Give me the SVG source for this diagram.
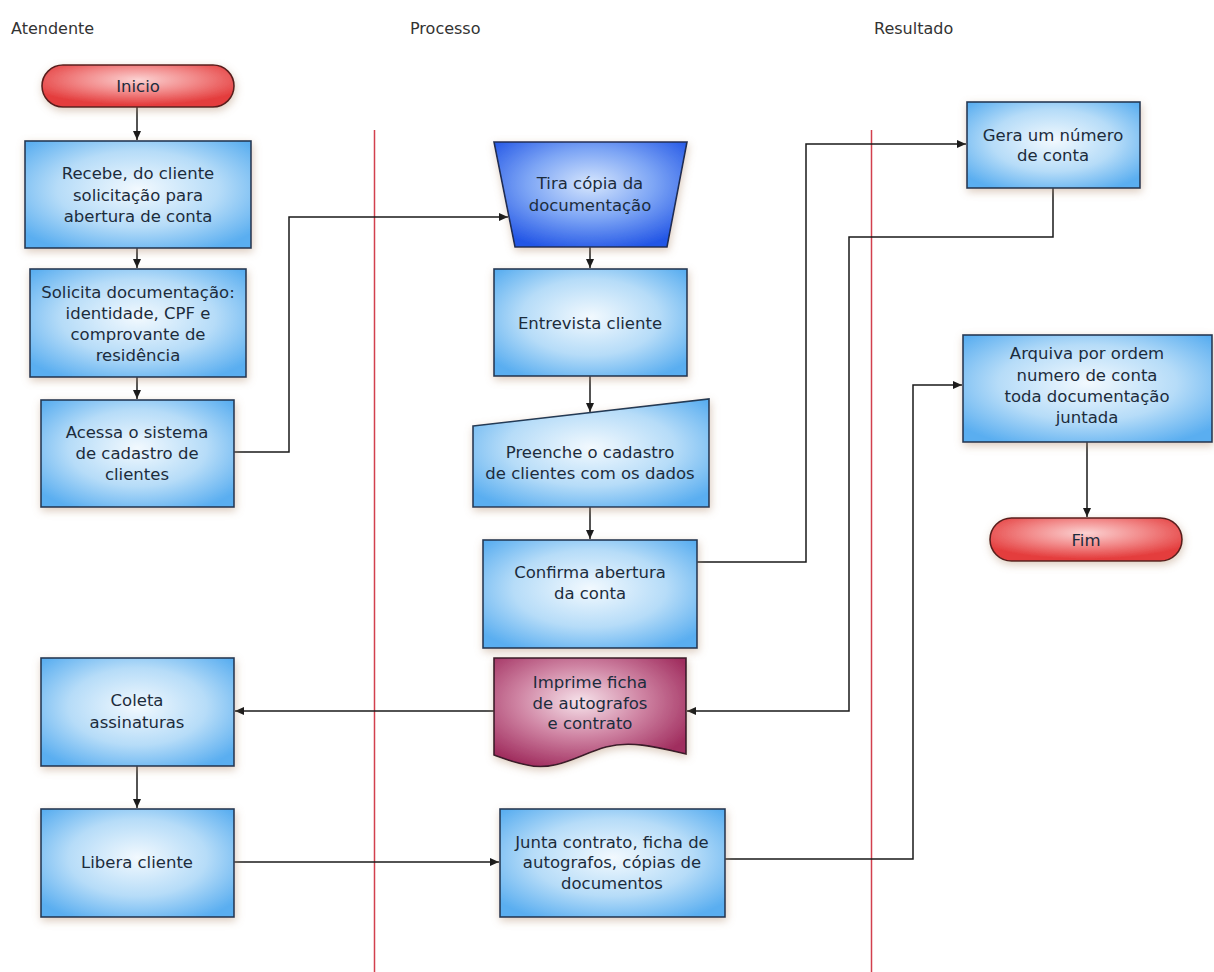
<svg xmlns="http://www.w3.org/2000/svg" width="1214" height="972" viewBox="0 0 1214 972">
  <defs>
    <radialGradient id="gBox" cx="50%" cy="45%" r="65%">
      <stop offset="0" stop-color="#f2f9fe"/>
      <stop offset="0.55" stop-color="#b6dcf8"/>
      <stop offset="1" stop-color="#5aaef0"/>
    </radialGradient>
    <radialGradient id="gTrap" cx="50%" cy="40%" r="65%">
      <stop offset="0" stop-color="#d6e6fd"/>
      <stop offset="0.5" stop-color="#7ea6f5"/>
      <stop offset="1" stop-color="#2356e6"/>
    </radialGradient>
    <radialGradient id="gDoc" cx="45%" cy="40%" r="65%">
      <stop offset="0" stop-color="#f6e2ea"/>
      <stop offset="0.5" stop-color="#cf84a3"/>
      <stop offset="1" stop-color="#a02d5e"/>
    </radialGradient>
    <radialGradient id="gPill" cx="50%" cy="35%" r="60%">
      <stop offset="0" stop-color="#fbd2d2"/>
      <stop offset="0.5" stop-color="#f28a8a"/>
      <stop offset="1" stop-color="#e43d3d"/>
    </radialGradient>
    <filter id="shadow" x="-20%" y="-20%" width="140%" height="150%">
      <feGaussianBlur in="SourceAlpha" stdDeviation="4"/>
      <feOffset dx="1" dy="3" result="b"/>
      <feFlood flood-color="#b08a6a" flood-opacity="0.45"/>
      <feComposite in2="b" operator="in"/>
      <feMerge>
        <feMergeNode/>
        <feMergeNode in="SourceGraphic"/>
      </feMerge>
    </filter>
    <marker id="arrow" markerWidth="10" markerHeight="10" refX="9" refY="4" orient="auto" markerUnits="userSpaceOnUse">
      <path d="M0,0 L9,4 L0,8 Z" fill="#1a1a1a"/>
    </marker>
    <style>
      .lane { font-family: "DejaVu Sans", sans-serif; font-size: 16px; fill: #333; }
      .txt { font-family: "DejaVu Sans", sans-serif; font-size: 16.5px; fill: #1c2c3c; text-anchor: middle; }
      .box { fill: url(#gBox); stroke: #233a55; stroke-width: 1.6; filter: url(#shadow); }
      .manual { fill: url(#gBox); stroke: #233a55; stroke-width: 1.6; filter: url(#shadow); }
      .trap { fill: url(#gTrap); stroke: #1f2e55; stroke-width: 1.6; filter: url(#shadow); }
      .doc { fill: url(#gDoc); stroke: #3a1a2a; stroke-width: 1.6; filter: url(#shadow); }
      .pill { fill: url(#gPill); stroke: #5a1e1e; stroke-width: 1.6; filter: url(#shadow); }
      .sep { stroke: #d2404e; stroke-width: 1.5; fill: none; }
      .conn { stroke: #1a1a1a; stroke-width: 1.5; fill: none; marker-end: url(#arrow); }
    </style>
  </defs>

  <rect width="1214" height="972" fill="#ffffff"/>

  <!-- lane headings and separators -->
  <g id="lanes">
    <text class="lane" x="11" y="34">Atendente</text>
    <text class="lane" x="410" y="34">Processo</text>
    <text class="lane" x="874" y="34">Resultado</text>
    <line class="sep" x1="374.5" y1="130" x2="374.5" y2="972"/>
    <line class="sep" x1="871.5" y1="130" x2="871.5" y2="972"/>
  </g>

  <!-- connectors -->
  <g id="connectors">
    <path class="conn" d="M137,107 V140"/>
    <path class="conn" d="M137,248 V268"/>
    <path class="conn" d="M137,377 V399"/>
    <path class="conn" d="M234,452 H289 V217 H508"/>
    <path class="conn" d="M590,247 V268"/>
    <path class="conn" d="M590,376 V412"/>
    <path class="conn" d="M590,506 V539"/>
    <path class="conn" d="M697,562 H806 V144 H966"/>
    <path class="conn" d="M1053,188 V237 H849 V711 H687"/>
    <path class="conn" d="M494,711 H235"/>
    <path class="conn" d="M137,766 V808"/>
    <path class="conn" d="M234,862 H499"/>
    <path class="conn" d="M725,859 H913 V385 H962"/>
    <path class="conn" d="M1087,442 V517"/>
  </g>

  <!-- nodes -->
  <g id="inicio">
    <rect class="pill" x="42" y="65" width="192" height="42" rx="21"/>
    <text class="txt" x="138" y="92">Inicio</text>
  </g>

  <g id="recebe">
    <rect class="box" x="25" y="141" width="226" height="107"/>
    <text class="txt" x="138" y="179">Recebe, do cliente</text>
    <text class="txt" x="138" y="201">solicitação para</text>
    <text class="txt" x="138" y="222">abertura de conta</text>
  </g>

  <g id="solicita">
    <rect class="box" x="30" y="269" width="216" height="108"/>
    <text class="txt" x="138" y="298">Solicita documentação:</text>
    <text class="txt" x="138" y="319">identidade, CPF e</text>
    <text class="txt" x="138" y="340">comprovante de</text>
    <text class="txt" x="138" y="361">residência</text>
  </g>

  <g id="acessa">
    <rect class="box" x="41" y="400" width="193" height="107"/>
    <text class="txt" x="137" y="438">Acessa o sistema</text>
    <text class="txt" x="137" y="459">de cadastro de</text>
    <text class="txt" x="137" y="480">clientes</text>
  </g>

  <g id="tira-copia">
    <path class="trap" d="M494,142 H687 L667,247 H515 Z"/>
    <text class="txt" x="590" y="189">Tira cópia da</text>
    <text class="txt" x="590" y="211">documentação</text>
  </g>

  <g id="entrevista">
    <rect class="box" x="494" y="269" width="193" height="107"/>
    <text class="txt" x="590" y="329">Entrevista cliente</text>
  </g>

  <g id="preenche">
    <path class="manual" d="M473,426 L709,399 V507 H473 Z"/>
    <text class="txt" x="590" y="458">Preenche o cadastro</text>
    <text class="txt" x="590" y="479">de clientes com os dados</text>
  </g>

  <g id="confirma">
    <rect class="box" x="483" y="540" width="214" height="108"/>
    <text class="txt" x="590" y="578">Confirma abertura</text>
    <text class="txt" x="590" y="599">da conta</text>
  </g>

  <g id="gera">
    <rect class="box" x="967" y="102" width="173" height="86"/>
    <text class="txt" x="1053" y="141">Gera um número</text>
    <text class="txt" x="1053" y="161">de conta</text>
  </g>

  <g id="arquiva">
    <rect class="box" x="963" y="335" width="249" height="107"/>
    <text class="txt" x="1087" y="359">Arquiva por ordem</text>
    <text class="txt" x="1087" y="381">numero de conta</text>
    <text class="txt" x="1087" y="402">toda documentação</text>
    <text class="txt" x="1087" y="423">juntada</text>
  </g>

  <g id="fim">
    <rect class="pill" x="990" y="518" width="192" height="43" rx="21.5"/>
    <text class="txt" x="1086" y="546">Fim</text>
  </g>

  <g id="imprime">
    <path class="doc" d="M494,658 H686 V754 C660,748 632,740 606,747 C580,754 556,772 527,765 C512,762 502,758 494,755 Z"/>
    <text class="txt" x="590" y="688">Imprime ficha</text>
    <text class="txt" x="590" y="709">de autografos</text>
    <text class="txt" x="590" y="729">e contrato</text>
  </g>

  <g id="coleta">
    <rect class="box" x="41" y="658" width="193" height="108"/>
    <text class="txt" x="137" y="706">Coleta</text>
    <text class="txt" x="137" y="728">assinaturas</text>
  </g>

  <g id="libera">
    <rect class="box" x="41" y="809" width="193" height="108"/>
    <text class="txt" x="137" y="868">Libera cliente</text>
  </g>

  <g id="junta">
    <rect class="box" x="500" y="809" width="225" height="108"/>
    <text class="txt" x="612" y="848">Junta contrato, ficha de</text>
    <text class="txt" x="612" y="868">autografos, cópias de</text>
    <text class="txt" x="612" y="889">documentos</text>
  </g>
</svg>
